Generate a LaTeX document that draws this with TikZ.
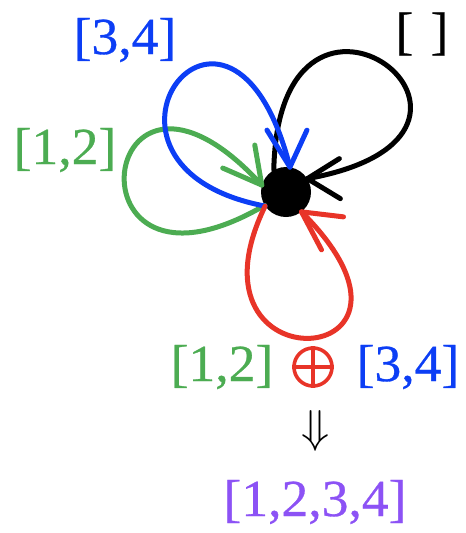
\documentclass[tikz,border=0pt]{standalone}
\usepackage{fontspec}
\setmainfont{Liberation Serif}[FakeStretch=1.03,FakeBold=0.6]
\definecolor{cblue}{RGB}{12,62,245}
\definecolor{cgreen}{RGB}{76,172,82}
\definecolor{cred}{RGB}{232,52,40}
\definecolor{cpurple}{RGB}{140,82,245}
\tikzset{
  loopline/.style={line width=5pt, line cap=round, line join=round},
  lbl/.style={inner sep=0pt, font=\fontsize{52}{56}\selectfont},
}
\begin{document}
\begin{tikzpicture}[x=1pt,y=-1pt]
\useasboundingbox (0,0) rectangle (466,533);
\node[circle, fill=black, minimum size=50pt, inner sep=0pt] (dot) at (286,192) {};
% anchor points
\coordinate (bks) at (dot.119);
\coordinate (bke) at (dot.32);
\coordinate (bus) at (dot.214);
\coordinate (bue) at (dot.81);
\coordinate (grs) at (dot.212);
\coordinate (gre) at (dot.164);
\coordinate (rds) at (dot.214);
\coordinate (rde) at (dot.308);
% black loop
\draw[loopline, black] (bks) .. controls +(5,-248) and +(248,-45) .. (bke);
\draw[loopline, black] (bke) -- +(32,-20) (bke) -- +(33,20);
% green loop
\draw[loopline, cgreen] (grs) .. controls +(-205,120) and +(-165,-180) .. (gre);
\draw[loopline, cgreen] (gre) -- +(-7,-40) (gre) -- +(-39,-17);
% blue loop
\draw[loopline, cblue] (bus) .. controls +(-210,-40) and +(-60,-235) .. (bue);
\draw[loopline, cblue] (bue) -- +(-23,-37) (bue) -- +(17,-37);
% red loop
\draw[loopline, cred] (rds) .. controls +(-90,185) and +(160,160) .. (rde);
\draw[loopline, cred] (rde) -- +(20,38) (rde) -- +(42,5);
% labels
\node[lbl, text=cblue] (l34) at (125,40) {[3,4]};
\node[lbl, text=black] (lempty) at (422,34) {[\,\,]};
\node[lbl, text=cgreen] (l12) at (65,150) {[1,2]};
% bottom equation
\node[lbl, text=cgreen] (b12) at (222,367) {[1,2]};
\node[circle, draw=cred, line width=3.6pt, minimum size=38pt, inner sep=0pt] (oplus) at (313,367) {};
\draw[cred, line width=3.6pt] (oplus.north) -- (oplus.south) (oplus.west) -- (oplus.east);
\node[lbl, text=cblue] (b34) at (408,367) {[3,4]};
\node[inner sep=0pt] (arr) at (316,431) {\scalebox{4.6}{$\Downarrow$}};
\node[lbl, text=cpurple] (res) at (315,502) {[1,2,3,4]};
\end{tikzpicture}
\end{document}
